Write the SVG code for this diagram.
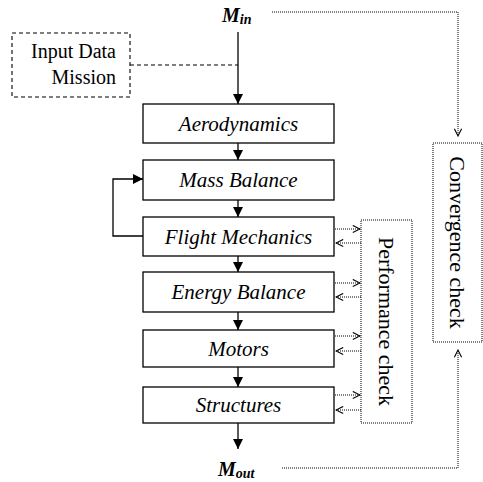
<svg xmlns="http://www.w3.org/2000/svg" width="483" height="482" viewBox="0 0 483 482">
  <defs>
    <marker id="solid" viewBox="0 0 10 10" refX="10" refY="5" markerWidth="10" markerHeight="10" markerUnits="userSpaceOnUse" orient="auto">
      <path d="M0,0 L10,5 L0,10 z" fill="#000"/>
    </marker>
    <marker id="open" viewBox="0 0 10 10" refX="9" refY="5" markerWidth="9" markerHeight="9" markerUnits="userSpaceOnUse" orient="auto">
      <path d="M1,1 L9,5 L1,9" fill="none" stroke="#000" stroke-width="1.2"/>
    </marker>
  </defs>
  <style>
    text { font-family: 'Liberation Serif', 'Times New Roman', serif; fill: #000; }
    .box { fill: #fff; stroke: #000; stroke-width: 1.3; }
    .lbl { font-size: 21px; font-style: italic; text-anchor: middle; }
    .plain { font-size: 20px; }
    .side { font-size: 22px; text-anchor: middle; }
    .m { font-weight: bold; font-style: italic; font-size: 20px; }
    .sub { font-size: 14px; }
    .flow { fill: none; stroke: #000; stroke-width: 1.3; }
    .dot { fill: none; stroke: #000; stroke-width: 1; stroke-dasharray: 1 1; }
    .dash { fill: none; stroke: #000; stroke-width: 1.1; stroke-dasharray: 4 3; }
  </style>

  <!-- connectors -->
  <g id="connectors">
    <!-- main flow -->
    <line class="flow" x1="238" y1="32" x2="238" y2="104" marker-end="url(#solid)"/>
    <line class="flow" x1="238" y1="143" x2="238" y2="160" marker-end="url(#solid)"/>
    <line class="flow" x1="238" y1="200" x2="238" y2="217" marker-end="url(#solid)"/>
    <line class="flow" x1="238" y1="256" x2="238" y2="272" marker-end="url(#solid)"/>
    <line class="flow" x1="238" y1="312" x2="238" y2="330" marker-end="url(#solid)"/>
    <line class="flow" x1="238" y1="367" x2="238" y2="387" marker-end="url(#solid)"/>
    <line class="flow" x1="238" y1="423" x2="238" y2="449" marker-end="url(#solid)"/>
    <!-- feedback loop -->
    <polyline class="flow" points="143,236 113,236 113,179 143,179" marker-end="url(#solid)"/>
    <!-- input data link -->
    <line class="dash" x1="130" y1="65" x2="238" y2="65"/>
    <!-- convergence loop -->
    <polyline class="dot" points="272,12 458,12 458,136" marker-end="url(#open)"/>
    <polyline class="dot" points="282,468 458,468 458,350" marker-end="url(#open)"/>
    <!-- performance check exchanges -->
    <line class="dot" x1="335" y1="229" x2="360" y2="229" marker-end="url(#open)"/>
    <line class="dot" x1="361" y1="243" x2="336" y2="243" marker-end="url(#open)"/>
    <line class="dot" x1="335" y1="283" x2="360" y2="283" marker-end="url(#open)"/>
    <line class="dot" x1="361" y1="297" x2="336" y2="297" marker-end="url(#open)"/>
    <line class="dot" x1="335" y1="336" x2="360" y2="336" marker-end="url(#open)"/>
    <line class="dot" x1="361" y1="351" x2="336" y2="351" marker-end="url(#open)"/>
    <line class="dot" x1="335" y1="395" x2="360" y2="395" marker-end="url(#open)"/>
    <line class="dot" x1="361" y1="410" x2="336" y2="410" marker-end="url(#open)"/>
  </g>

  <!-- nodes -->
  <g id="m-in">
    <text class="m" x="222" y="22">M<tspan class="sub" dy="2">in</tspan></text>
  </g>
  <g id="input-data">
    <rect class="dash" x="12" y="33" width="118" height="64"/>
    <text class="plain" x="116" y="58" text-anchor="end">Input Data</text>
    <text class="plain" x="116" y="84" text-anchor="end">Mission</text>
  </g>
  <g id="aerodynamics">
    <rect class="box" x="143" y="104" width="191" height="39"/>
    <text class="lbl" x="238.5" y="131">Aerodynamics</text>
  </g>
  <g id="mass-balance">
    <rect class="box" x="143" y="160" width="191" height="40"/>
    <text class="lbl" x="238.5" y="187">Mass Balance</text>
  </g>
  <g id="flight-mechanics">
    <rect class="box" x="143" y="217" width="191" height="39"/>
    <text class="lbl" x="238.5" y="244">Flight Mechanics</text>
  </g>
  <g id="energy-balance">
    <rect class="box" x="143" y="272" width="191" height="40"/>
    <text class="lbl" x="238.5" y="299">Energy Balance</text>
  </g>
  <g id="motors">
    <rect class="box" x="143" y="330" width="191" height="37"/>
    <text class="lbl" x="238.5" y="356">Motors</text>
  </g>
  <g id="structures">
    <rect class="box" x="143" y="387" width="191" height="36"/>
    <text class="lbl" x="238.5" y="412">Structures</text>
  </g>
  <g id="m-out">
    <text class="m" x="218" y="476">M<tspan class="sub" dy="2">out</tspan></text>
  </g>
  <g id="performance-check">
    <rect class="dot" x="361" y="220" width="51" height="203"/>
    <text class="side" transform="translate(379,321.5) rotate(90)">Performance check</text>
  </g>
  <g id="convergence-check">
    <rect class="dot" x="433" y="143" width="49" height="199"/>
    <text class="side" transform="translate(450,242.5) rotate(90)">Convergence check</text>
  </g>
</svg>
